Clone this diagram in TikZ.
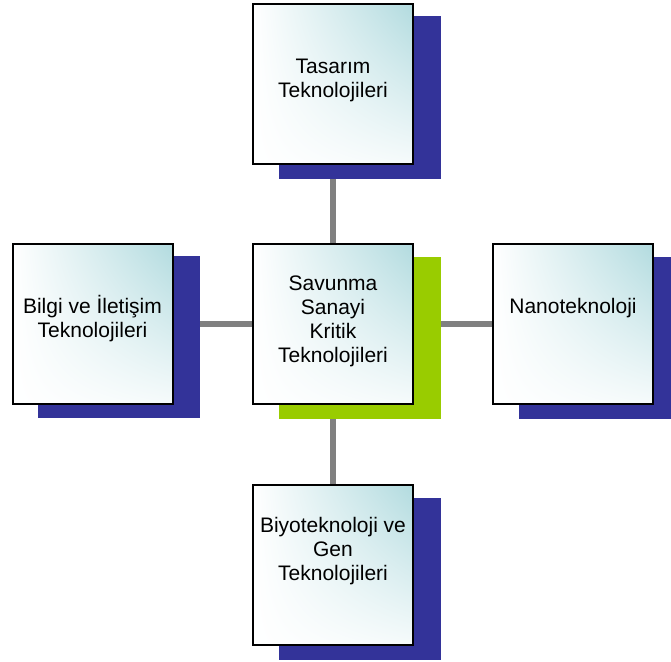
\documentclass[tikz,border=0pt]{standalone}
\usepackage{fontspec}
\setmainfont{Liberation Sans}
\usetikzlibrary{shadings}
\definecolor{navyshadow}{HTML}{333399}
\definecolor{limeshadow}{HTML}{99CC00}
\definecolor{linkgray}{HTML}{808080}
\definecolor{tealtint}{HTML}{B2DBDF}
\pgfdeclarelayer{links}
\pgfdeclarelayer{shadows}
\pgfsetlayers{links,shadows,main}
\tikzset{
  techbox/.style={draw=black, line width=2pt, minimum width=160pt,
    minimum height=160pt, inner sep=0pt, shade, upper left=white,
    upper right=tealtint, lower left=white, lower right=tealtint!12},
  boxtext/.style={align=center, inner sep=0pt, anchor=north,
    font=\fontsize{21}{24}\selectfont, text=black},
  link/.style={draw=linkgray, line width=6pt},
}
% offset block behind a box
\newcommand\boxshadow[2]{%
  \fill[#2] ([shift={(26.5,13.5)}]#1.south west) rectangle ([shift={(26.5,13.5)}]#1.north east);}
\begin{document}
\begin{tikzpicture}[x=1pt, y=-1pt]
  \useasboundingbox (0,0) rectangle (671,661);

  % boxes
  \node[techbox] (top)    at (333,84)    {};
  \node[techbox] (center) at (333,324)   {};
  \node[techbox] (left)   at (92.5,323.5){};
  \node[techbox] (right)  at (573,324)   {};
  \node[techbox] (bottom) at (333,565)   {};

  % labels (first baseline minus strut height)
  \node[boxtext] (top-t)    at (333,73.5-16.8) {\strut Tasarım\\\strut Teknolojileri};
  \node[boxtext] (center-t) at (333,290-16.8)  {\strut Savunma\\\strut Sanayi\\\strut Kritik\\\strut Teknolojileri};
  \node[boxtext] (left-t)   at (92.5,312-16.8) {\strut Bilgi ve İletişim\\\strut Teknolojileri};
  \node[boxtext] (right-t)  at (573,313-16.8)  {\strut Nanoteknoloji};
  \node[boxtext] (bottom-t) at (333,532-16.8)  {\strut Biyoteknoloji ve\\\strut Gen\\\strut Teknolojileri};

  % shadows
  \begin{pgfonlayer}{shadows}
    \boxshadow{top}{navyshadow}
    \boxshadow{center}{limeshadow}
    \boxshadow{left}{navyshadow}
    \boxshadow{right}{navyshadow}
    \boxshadow{bottom}{navyshadow}
  \end{pgfonlayer}

  % connectors
  \begin{pgfonlayer}{links}
    \draw[link] (center.center) -- (top.center);
    \draw[link] (center.center) -- (bottom.center);
    \draw[link] (center.center) -- (left.center |- center.center);
    \draw[link] (center.center) -- (right.center);
  \end{pgfonlayer}
\end{tikzpicture}
\end{document}
